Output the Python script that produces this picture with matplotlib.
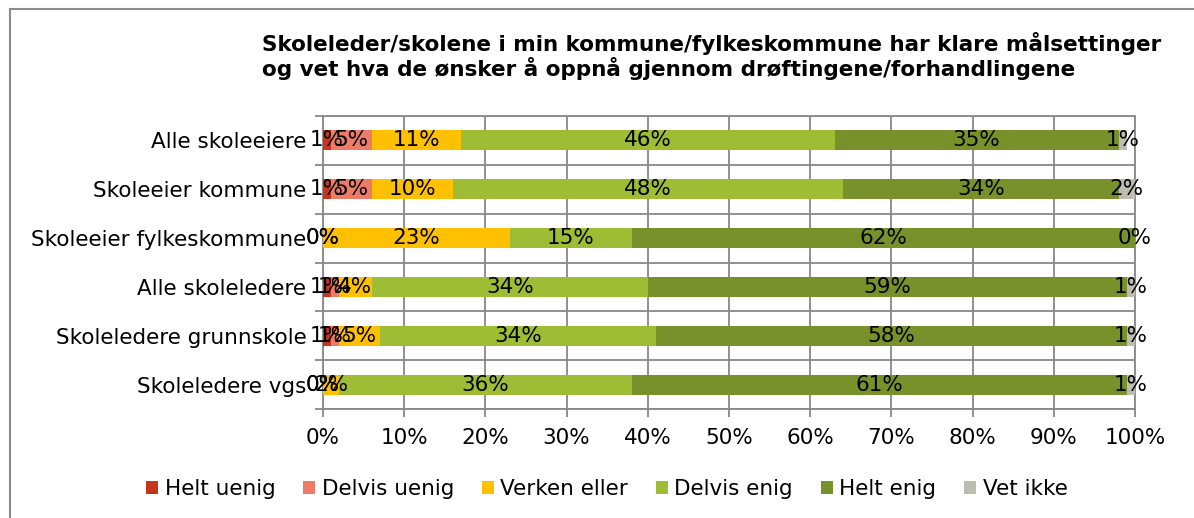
import matplotlib
matplotlib.use("Agg")
import matplotlib.pyplot as plt
from matplotlib.lines import Line2D
from matplotlib.patches import Patch
import numpy as np

plt.rcParams['font.family'] = ['DejaVu Sans']

categories = ["Alle skoleeiere", "Skoleeier kommune", "Skoleeier fylkeskommune",
              "Alle skoleledere", "Skoleledere grunnskole", "Skoleledere vgs"]
series_names = ["Helt uenig", "Delvis uenig", "Verken eller", "Delvis enig", "Helt enig", "Vet ikke"]
helt_uenig   = [1, 1, 0, 1, 1, 0]
delvis_uenig = [5, 5, 0, 1, 1, 0]
verken_eller = [11, 10, 23, 4, 5, 2]
delvis_enig  = [46, 48, 15, 34, 34, 36]
helt_enig    = [35, 34, 62, 59, 58, 61]
vet_ikke     = [1, 2, 0, 1, 1, 1]
colors = ["#C8341E", "#EC7B68", "#FFC000", "#9EBD35", "#79912A", "#BDBCB0"]
title = ("Skoleleder/skolene i min kommune/fylkeskommune har klare målsettinger\n"
         "og vet hva de ønsker å oppnå gjennom drøftingene/forhandlingene")

W, H = 1194, 518
fig = plt.figure(figsize=(W / 100, H / 100), dpi=100)
ax = fig.add_axes([323 / W, 1 - 409 / H, (1135 - 323) / W, (409 - 116) / H])

series = [helt_uenig, delvis_uenig, verken_eller, delvis_enig, helt_enig, vet_ikke]
n = len(categories)
y = np.arange(n)
left = np.zeros(n)
fs = 15.5
for name, vals, c in zip(series_names, series, colors):
    v = np.array(vals, dtype=float) / 100.0
    ax.barh(y, v, left=left, height=0.41, color=c, zorder=3, label=name)
    for yi, (l, w, raw) in enumerate(zip(left, v, vals)):
        ax.text(l + w / 2, yi, f"{raw}%", ha='center', va='center', fontsize=fs,
                color='black', zorder=5)
    left += v

ax.set_xlim(0, 1)
ax.set_ylim(n - 0.5, -0.5)
ax.set_yticks(y)
ax.set_yticklabels(categories, fontsize=fs)
ax.set_yticks(np.arange(n + 1) - 0.5, minor=True)
ax.tick_params(axis='y', which='major', length=0, pad=12)
ax.tick_params(axis='y', which='minor', length=6, color='#888888', width=1.3)
ax.set_xticks(np.linspace(0, 1, 11))
ax.set_xticklabels([f"{int(round(t * 100))}%" for t in np.linspace(0, 1, 11)], fontsize=fs)
ax.tick_params(axis='x', which='major', length=6, color='#888888', width=1.3, pad=8)
ax.grid(axis='x', which='major', color='#888888', lw=1.3, zorder=1)
ax.grid(axis='y', which='minor', color='#888888', lw=1.3, zorder=1)
for s in ax.spines.values():
    s.set_color('#888888')
    s.set_linewidth(1.3)

fig.text(262 / W, 1 - 32 / H, title, ha='left', va='top', fontsize=15.5,
         fontweight='bold', linespacing=1.12)

handles = [Patch(facecolor=c, edgecolor='none') for c in colors]
fig.legend(handles, series_names, loc='center', bbox_to_anchor=(607 / W, 1 - 489 / H),
           ncol=6, frameon=False, fontsize=fs, handlelength=0.55, handleheight=0.55,
           handletextpad=0.3, columnspacing=1.3)

fig.add_artist(Line2D([10 / W, 1.0], [1 - 9 / H, 1 - 9 / H], transform=fig.transFigure,
                      color='#8c8c8c', lw=1.5))
fig.add_artist(Line2D([10 / W, 10 / W], [0, 1 - 9 / H], transform=fig.transFigure,
                      color='#8c8c8c', lw=1.5))

fig.savefig("out.png", dpi=100)
